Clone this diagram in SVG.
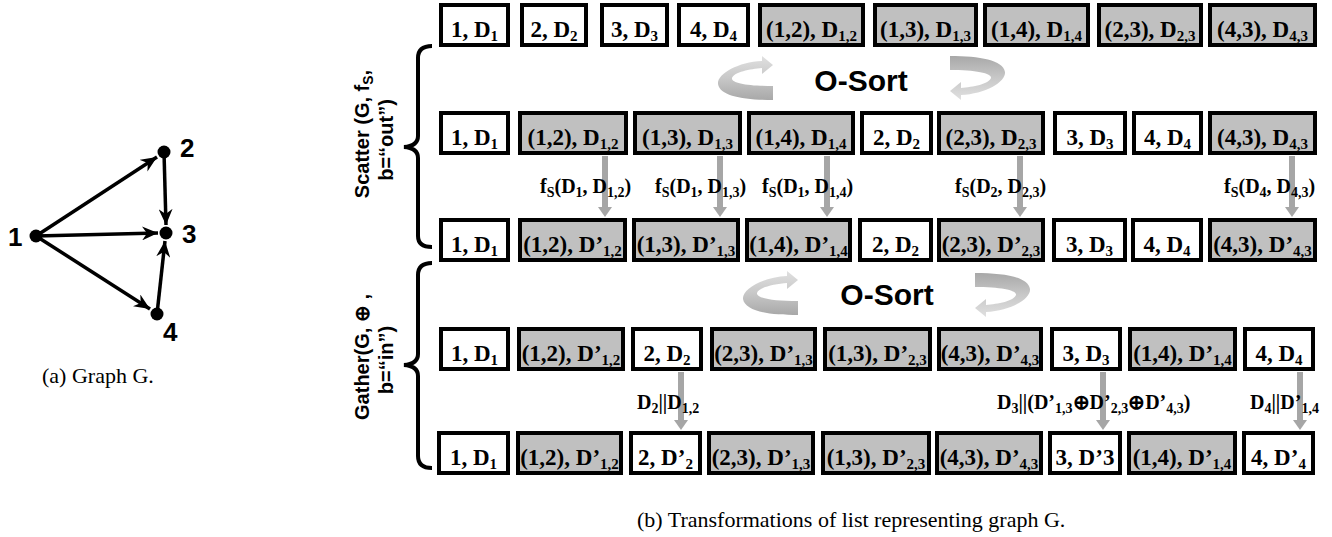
<svg xmlns="http://www.w3.org/2000/svg" width="1332" height="537" viewBox="0 0 1332 537">
<style>
.bw{fill:#fff;stroke:#000;stroke-width:4}
.bg{fill:#c0c0c0;stroke:#000;stroke-width:4}
.t{font-family:"Liberation Serif","Times New Roman",serif;font-weight:bold;font-size:23px;text-anchor:middle;fill:#000}
.s{font-size:15px}
.lb{font-family:"Liberation Serif","Times New Roman",serif;font-weight:bold;font-size:20px;fill:#000}
.ls{font-size:14px}
.ga{stroke:#a6a6a6;stroke-width:6;fill:none}
.ge{stroke:#000;stroke-width:3.5;fill:none}
.nd{fill:#000}
.nl{font-family:"Liberation Sans",Arial,sans-serif;font-weight:bold;font-size:26px;fill:#000}
.os{font-family:"Liberation Sans",Arial,sans-serif;font-weight:bold;font-size:30px;fill:#000;text-anchor:middle}
.rl{font-family:"Liberation Sans",Arial,sans-serif;font-weight:bold;font-size:20px;fill:#000;text-anchor:middle}
.br{stroke:#000;stroke-width:4;fill:none}
.cap{font-family:"Liberation Serif","Times New Roman",serif;font-size:22px;fill:#000}
</style>
<defs>
<marker id="gh" markerUnits="userSpaceOnUse" markerWidth="10" markerHeight="14" viewBox="0 0 10 14" refX="2" refY="7" orient="auto">
<path d="M0,0 L10,7 L0,14 Z" fill="#a6a6a6"/>
</marker>
<marker id="bh" markerUnits="userSpaceOnUse" markerWidth="16" markerHeight="14" viewBox="0 0 16 14" refX="16" refY="7" orient="auto">
<path d="M0,0 L16,7 L0,14 L5,7 Z" fill="#000"/>
</marker>
<linearGradient id="rg" x1="0" y1="0" x2="0" y2="1">
<stop offset="0" stop-color="#e0e0e0"/>
<stop offset="0.5" stop-color="#c8c8c8"/>
<stop offset="1" stop-color="#a8a8a8"/>
</linearGradient>
<path id="curl" d="M44,5 L44,0 L55,9 L44,18 L44,12 C32,13 16,16 14,22 C13,27 30,30 55,30 L55,44 C25,44 2,40 0,28 C-1,18 20,6 44,5 Z" fill="url(#rg)"/>
</defs>

<!-- Graph G -->
<g id="graph">
<g id="graph-edges">
<line class="ge" x1="36" y1="236" x2="157" y2="157" marker-end="url(#bh)"/>
<line class="ge" x1="36" y1="236" x2="158" y2="233" marker-end="url(#bh)"/>
<line class="ge" x1="36" y1="236" x2="150" y2="309" marker-end="url(#bh)"/>
<line class="ge" x1="164" y1="152" x2="166" y2="225" marker-end="url(#bh)"/>
<line class="ge" x1="157" y1="314" x2="165" y2="241" marker-end="url(#bh)"/>
</g>
<g id="gn1"><circle class="nd" cx="36" cy="236" r="6.5"/><text class="nl" x="8" y="246">1</text></g>
<g id="gn2"><circle class="nd" cx="164" cy="152" r="6.5"/><text class="nl" x="180" y="157">2</text></g>
<g id="gn3"><circle class="nd" cx="166" cy="233" r="6.5"/><text class="nl" x="182" y="243">3</text></g>
<g id="gn4"><circle class="nd" cx="157" cy="314" r="6.5"/><text class="nl" x="163" y="341">4</text></g>
<text class="cap" x="42" y="383" font-size="23">(a) Graph G.</text>
</g>

<!-- Braces and side labels -->
<g id="scatter-brace">
<path class="br" d="M432,46 Q418,46 418,58 L418,136 Q418,146 404,147 Q418,148 418,158 L418,236 Q418,247 432,247"/>
<text class="rl" transform="translate(369,134) rotate(-90)">Scatter (G, f<tspan font-size="14" dy="4">S</tspan><tspan dy="-4">,</tspan></text>
<text class="rl" transform="translate(393,140) rotate(-90)">b=“out”)</text>
</g>
<g id="gather-brace">
<path class="br" d="M432,263 Q418,263 418,275 L418,354 Q418,364 404,365 Q418,366 418,376 L418,456 Q418,468 432,468"/>
<text class="rl" transform="translate(369,357) rotate(-90)">Gather(G, ⊕ ,</text>
<text class="rl" transform="translate(393,360) rotate(-90)">b=“in”)</text>
</g>

<!-- Row 1 -->
<g id="r1">
<g id="r1b1"><rect class="bw" x="441" y="5" width="67" height="40"/><text class="t" x="474.5" y="37">1, D<tspan class="s" dy="4">1</tspan></text></g>
<g id="r1b2"><rect class="bw" x="522" y="5" width="64" height="40"/><text class="t" x="554" y="37">2, D<tspan class="s" dy="4">2</tspan></text></g>
<g id="r1b3"><rect class="bw" x="602" y="5" width="65" height="40"/><text class="t" x="634.5" y="37">3, D<tspan class="s" dy="4">3</tspan></text></g>
<g id="r1b4"><rect class="bw" x="679" y="5" width="69" height="40"/><text class="t" x="713.5" y="37">4, D<tspan class="s" dy="4">4</tspan></text></g>
<g id="r1b5"><rect class="bg" x="760" y="5" width="103" height="40"/><text class="t" x="811.5" y="37">(1,2), D<tspan class="s" dy="4">1,2</tspan></text></g>
<g id="r1b6"><rect class="bg" x="875" y="5" width="101" height="40"/><text class="t" x="925.5" y="37">(1,3), D<tspan class="s" dy="4">1,3</tspan></text></g>
<g id="r1b7"><rect class="bg" x="985" y="5" width="103" height="40"/><text class="t" x="1036.5" y="37">(1,4), D<tspan class="s" dy="4">1,4</tspan></text></g>
<g id="r1b8"><rect class="bg" x="1099" y="5" width="102" height="40"/><text class="t" x="1150" y="37">(2,3), D<tspan class="s" dy="4">2,3</tspan></text></g>
<g id="r1b9"><rect class="bg" x="1210" y="5" width="105" height="40"/><text class="t" x="1262.5" y="37">(4,3), D<tspan class="s" dy="4">4,3</tspan></text></g>
</g>

<!-- O-Sort 1 -->
<g id="osort1">
<use href="#curl" transform="translate(718,56)"/>
<use href="#curl" transform="translate(1005,100) rotate(180)"/>
<text class="os" x="861" y="91">O-Sort</text>
</g>

<!-- Row 2 -->
<g id="r2">
<g id="r2b1"><rect class="bw" x="441" y="113" width="67" height="40"/><text class="t" x="474.5" y="145">1, D<tspan class="s" dy="4">1</tspan></text></g>
<g id="r2b2"><rect class="bg" x="520" y="113" width="106" height="40"/><text class="t" x="573" y="145">(1,2), D<tspan class="s" dy="4">1,2</tspan></text></g>
<g id="r2b3"><rect class="bg" x="635" y="113" width="105" height="40"/><text class="t" x="687.5" y="145">(1,3), D<tspan class="s" dy="4">1,3</tspan></text></g>
<g id="r2b4"><rect class="bg" x="749" y="113" width="104" height="40"/><text class="t" x="801" y="145">(1,4), D<tspan class="s" dy="4">1,4</tspan></text></g>
<g id="r2b5"><rect class="bw" x="862" y="113" width="69" height="40"/><text class="t" x="896.5" y="145">2, D<tspan class="s" dy="4">2</tspan></text></g>
<g id="r2b6"><rect class="bg" x="939" y="113" width="104" height="40"/><text class="t" x="991" y="145">(2,3), D<tspan class="s" dy="4">2,3</tspan></text></g>
<g id="r2b7"><rect class="bw" x="1055" y="113" width="70" height="40"/><text class="t" x="1090" y="145">3, D<tspan class="s" dy="4">3</tspan></text></g>
<g id="r2b8"><rect class="bw" x="1134" y="113" width="67" height="40"/><text class="t" x="1167.5" y="145">4, D<tspan class="s" dy="4">4</tspan></text></g>
<g id="r2b9"><rect class="bg" x="1210" y="113" width="105" height="40"/><text class="t" x="1262.5" y="145">(4,3), D<tspan class="s" dy="4">4,3</tspan></text></g>
</g>

<!-- Row 3 -->
<g id="r3">
<g id="r3b1"><rect class="bw" x="441" y="220" width="67" height="40"/><text class="t" x="474.5" y="252">1, D<tspan class="s" dy="4">1</tspan></text></g>
<g id="r3b2"><rect class="bg" x="520" y="220" width="105" height="40"/><text class="t" x="572.5" y="252">(1,2), D’<tspan class="s" dy="4">1,2</tspan></text></g>
<g id="r3b3"><rect class="bg" x="634" y="220" width="104" height="40"/><text class="t" x="686" y="252">(1,3), D’<tspan class="s" dy="4">1,3</tspan></text></g>
<g id="r3b4"><rect class="bg" x="747" y="220" width="103" height="40"/><text class="t" x="798.5" y="252">(1,4), D’<tspan class="s" dy="4">1,4</tspan></text></g>
<g id="r3b5"><rect class="bw" x="860" y="220" width="71" height="40"/><text class="t" x="895.5" y="252">2, D<tspan class="s" dy="4">2</tspan></text></g>
<g id="r3b6"><rect class="bg" x="939" y="220" width="104" height="40"/><text class="t" x="991" y="252">(2,3), D’<tspan class="s" dy="4">2,3</tspan></text></g>
<g id="r3b7"><rect class="bw" x="1054" y="220" width="71" height="40"/><text class="t" x="1089.5" y="252">3, D<tspan class="s" dy="4">3</tspan></text></g>
<g id="r3b8"><rect class="bw" x="1133" y="220" width="68" height="40"/><text class="t" x="1167" y="252">4, D<tspan class="s" dy="4">4</tspan></text></g>
<g id="r3b9"><rect class="bg" x="1210" y="220" width="105" height="40"/><text class="t" x="1262.5" y="252">(4,3), D’<tspan class="s" dy="4">4,3</tspan></text></g>
</g>

<!-- O-Sort 2 -->
<g id="osort2">
<use href="#curl" transform="translate(743,271)"/>
<use href="#curl" transform="translate(1030,317) rotate(180)"/>
<text class="os" x="887" y="305">O-Sort</text>
</g>

<!-- Row 4 -->
<g id="r4">
<g id="r4b1"><rect class="bw" x="441" y="329" width="67" height="40"/><text class="t" x="474.5" y="361">1, D<tspan class="s" dy="4">1</tspan></text></g>
<g id="r4b2"><rect class="bg" x="519" y="329" width="104" height="40"/><text class="t" x="571" y="361">(1,2), D’<tspan class="s" dy="4">1,2</tspan></text></g>
<g id="r4b3"><rect class="bw" x="633" y="329" width="68" height="40"/><text class="t" x="667" y="361">2, D<tspan class="s" dy="4">2</tspan></text></g>
<g id="r4b4"><rect class="bg" x="712" y="329" width="103" height="40"/><text class="t" x="763.5" y="361">(2,3), D’<tspan class="s" dy="4">1,3</tspan></text></g>
<g id="r4b5"><rect class="bg" x="825" y="329" width="105" height="40"/><text class="t" x="877.5" y="361">(1,3), D’<tspan class="s" dy="4">2,3</tspan></text></g>
<g id="r4b6"><rect class="bg" x="939" y="329" width="102" height="40"/><text class="t" x="990" y="361">(4,3), D’<tspan class="s" dy="4">4,3</tspan></text></g>
<g id="r4b7"><rect class="bw" x="1052" y="329" width="68" height="40"/><text class="t" x="1086" y="361">3, D<tspan class="s" dy="4">3</tspan></text></g>
<g id="r4b8"><rect class="bg" x="1130" y="329" width="105" height="40"/><text class="t" x="1182.5" y="361">(1,4), D’<tspan class="s" dy="4">1,4</tspan></text></g>
<g id="r4b9"><rect class="bw" x="1245" y="329" width="68" height="40"/><text class="t" x="1279" y="361">4, D<tspan class="s" dy="4">4</tspan></text></g>
</g>

<!-- Row 5 -->
<g id="r5">
<g id="r5b1"><rect class="bw" x="439" y="433" width="69" height="40"/><text class="t" x="473.5" y="465">1, D<tspan class="s" dy="4">1</tspan></text></g>
<g id="r5b2"><rect class="bg" x="518" y="433" width="103" height="40"/><text class="t" x="569.5" y="465">(1,2), D’<tspan class="s" dy="4">1,2</tspan></text></g>
<g id="r5b3"><rect class="bw" x="631" y="433" width="69" height="40"/><text class="t" x="665.5" y="465">2, D’<tspan class="s" dy="4">2</tspan></text></g>
<g id="r5b4"><rect class="bg" x="709" y="433" width="104" height="40"/><text class="t" x="761" y="465">(2,3), D’<tspan class="s" dy="4">1,3</tspan></text></g>
<g id="r5b5"><rect class="bg" x="823" y="433" width="106" height="40"/><text class="t" x="876" y="465">(1,3), D’<tspan class="s" dy="4">2,3</tspan></text></g>
<g id="r5b6"><rect class="bg" x="937" y="433" width="104" height="40"/><text class="t" x="989" y="465">(4,3), D’<tspan class="s" dy="4">4,3</tspan></text></g>
<g id="r5b7"><rect class="bw" x="1050" y="433" width="70" height="40"/><text class="t" x="1085" y="465">3, D’3</text></g>
<g id="r5b8"><rect class="bg" x="1129" y="433" width="106" height="40"/><text class="t" x="1182" y="465">(1,4), D’<tspan class="s" dy="4">1,4</tspan></text></g>
<g id="r5b9"><rect class="bw" x="1244" y="433" width="69" height="40"/><text class="t" x="1278.5" y="465">4, D’<tspan class="s" dy="4">4</tspan></text></g>
</g>

<!-- Connectors -->
<g id="connectors">
<line class="ga" x1="605" y1="156" x2="605" y2="209" marker-end="url(#gh)"/>
<line class="ga" x1="720" y1="156" x2="720" y2="209" marker-end="url(#gh)"/>
<line class="ga" x1="827" y1="156" x2="827" y2="209" marker-end="url(#gh)"/>
<line class="ga" x1="1020" y1="156" x2="1020" y2="209" marker-end="url(#gh)"/>
<line class="ga" x1="1292" y1="156" x2="1292" y2="209" marker-end="url(#gh)"/>
<line class="ga" x1="681" y1="372" x2="681" y2="422" marker-end="url(#gh)"/>
<line class="ga" x1="1103" y1="372" x2="1103" y2="422" marker-end="url(#gh)"/>
<line class="ga" x1="1300" y1="372" x2="1300" y2="422" marker-end="url(#gh)"/>
</g>

<!-- Connector labels -->
<g id="labels">
<text class="lb" x="540" y="193">f<tspan class="ls" dy="4">S</tspan><tspan dy="-4">(D</tspan><tspan class="ls" dy="4">1</tspan><tspan dy="-4">, D</tspan><tspan class="ls" dy="4">1,2</tspan><tspan dy="-4">)</tspan></text>
<text class="lb" x="655" y="193">f<tspan class="ls" dy="4">S</tspan><tspan dy="-4">(D</tspan><tspan class="ls" dy="4">1</tspan><tspan dy="-4">, D</tspan><tspan class="ls" dy="4">1,3</tspan><tspan dy="-4">)</tspan></text>
<text class="lb" x="762" y="193">f<tspan class="ls" dy="4">S</tspan><tspan dy="-4">(D</tspan><tspan class="ls" dy="4">1</tspan><tspan dy="-4">, D</tspan><tspan class="ls" dy="4">1,4</tspan><tspan dy="-4">)</tspan></text>
<text class="lb" x="955" y="193">f<tspan class="ls" dy="4">S</tspan><tspan dy="-4">(D</tspan><tspan class="ls" dy="4">2</tspan><tspan dy="-4">, D</tspan><tspan class="ls" dy="4">2,3</tspan><tspan dy="-4">)</tspan></text>
<text class="lb" x="1224" y="193">f<tspan class="ls" dy="4">S</tspan><tspan dy="-4">(D</tspan><tspan class="ls" dy="4">4</tspan><tspan dy="-4">, D</tspan><tspan class="ls" dy="4">4,3</tspan><tspan dy="-4">)</tspan></text>
<text class="lb" x="637" y="409">D<tspan class="ls" dy="4">2</tspan><tspan dy="-4">||D</tspan><tspan class="ls" dy="4">1,2</tspan></text>
<text class="lb" x="997" y="409">D<tspan class="ls" dy="4">3</tspan><tspan dy="-4">||(D’</tspan><tspan class="ls" dy="4">1,3</tspan><tspan dy="-4">⊕D’</tspan><tspan class="ls" dy="4">2,3</tspan><tspan dy="-4">⊕D’</tspan><tspan class="ls" dy="4">4,3</tspan><tspan dy="-4">)</tspan></text>
<text class="lb" x="1250" y="409">D<tspan class="ls" dy="4">4</tspan><tspan dy="-4">||D’</tspan><tspan class="ls" dy="4">1,4</tspan></text>
</g>

<text class="cap" x="637" y="527">(b) Transformations of list representing graph G.</text>
</svg>
